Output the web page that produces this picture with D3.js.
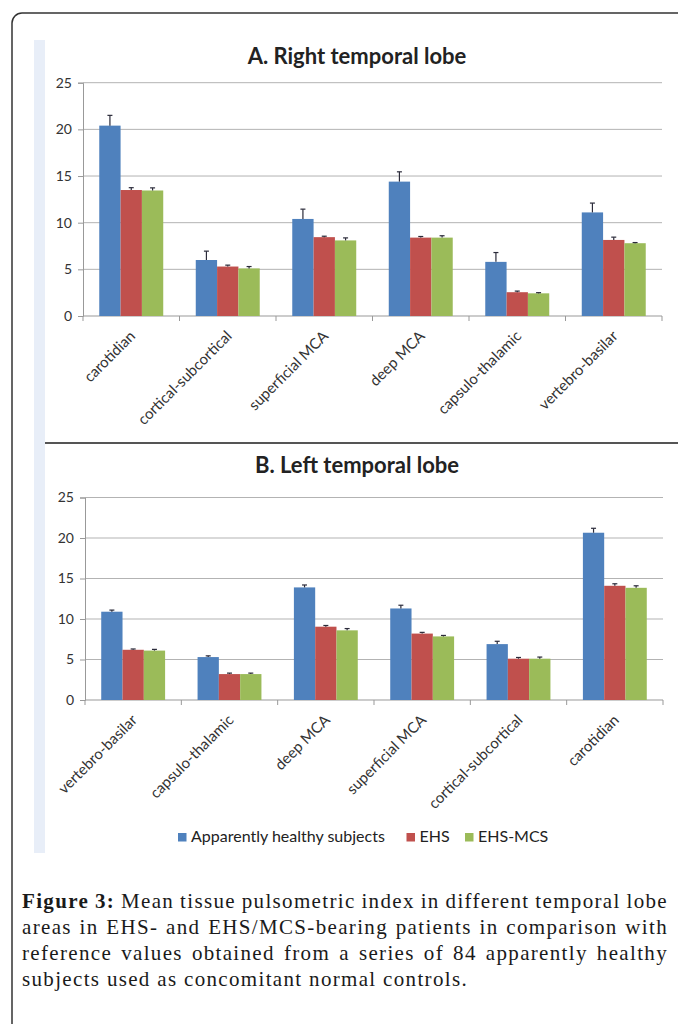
<!DOCTYPE html>
<html>
<head>
<meta charset="utf-8">
<script src="https://cdn.jsdelivr.net/npm/d3@7"></script>
<style>
  body { margin: 0; background: #fff; }
  svg { display: block; }
</style>
</head>
<body>
<div id="container"></div>
<script>
const seriesNames = ["Apparently healthy subjects", "EHS", "EHS-MCS"]
const colors = ["#4f81bd", "#c0504d", "#9bbb59"]
const yTicks = [0, 5, 10, 15, 20, 25]

// A. Right temporal lobe
const categoriesA = ["carotidian", "cortical-subcortical", "superficial MCA", "deep MCA", "capsulo-thalamic", "vertebro-basilar"]
const healthyA = [20.4, 6.0, 10.4, 14.4, 5.8, 11.1]
const healthyErrA = [1.1, 0.95, 1.05, 1.05, 1.0, 1.0]
const ehsA = [13.5, 5.3, 8.45, 8.4, 2.55, 8.15]
const ehsErrA = [0.25, 0.15, 0.1, 0.12, 0.12, 0.3]
const mcsA = [13.45, 5.1, 8.1, 8.4, 2.43, 7.8]
const mcsErrA = [0.28, 0.2, 0.27, 0.2, 0.07, 0.07]

// B. Left temporal lobe
const categoriesB = ["vertebro-basilar", "capsulo-thalamic", "deep MCA", "superficial MCA", "cortical-subcortical", "carotidian"]
const healthyB = [10.9, 5.3, 13.9, 11.3, 6.9, 20.65]
const healthyErrB = [0.2, 0.15, 0.3, 0.4, 0.35, 0.55]
const ehsB = [6.2, 3.2, 9.05, 8.2, 5.1, 14.1]
const ehsErrB = [0.1, 0.12, 0.15, 0.15, 0.15, 0.25]
const mcsB = [6.1, 3.2, 8.6, 7.85, 5.1, 13.85]
const mcsErrB = [0.15, 0.12, 0.22, 0.12, 0.2, 0.25]

const captionLines = [
    ["Figure 3:", " Mean tissue pulsometric index in different temporal lobe"],
    ["", "areas in EHS- and EHS/MCS-bearing patients in comparison with"],
    ["", "reference values obtained from a series of 84 apparently healthy"],
    ["", "subjects used as concomitant normal controls."]
]

const W = 678, H = 1024
const font = "Lato, 'Open Sans', sans-serif"

const svg = d3.select('#container')
    .append('svg').attr('width', W).attr('height', H)

// outer frame
svg.append('rect')
    .attr('x', 12).attr('y', 13)
    .attr('width', 700).attr('height', 1040)
    .attr('rx', 10)
    .attr('fill', 'none')
    .attr('stroke', '#333').attr('stroke-width', 1.5)

// light strip on the left of the chart picture
svg.append('rect')
    .attr('x', 34).attr('y', 40)
    .attr('width', 11).attr('height', 813)
    .attr('fill', '#e8eef8')

const drawPanel = (box, title, categories, values, errors) => {
    const g = svg.append('g')

    const x0 = d3.scaleBand().domain(categories)
        .range([box.left, box.right])
        .paddingInner(0.337).paddingOuter(0.1685)
    const x1 = d3.scaleBand().domain(d3.range(3)).range([0, x0.bandwidth()])
    const y = d3.scaleLinear().domain([0, 25]).range([box.bottom, box.top])

    g.append('text')
        .attr('x', 357).attr('y', box.titleY)
        .attr('text-anchor', 'middle')
        .attr('font-family', font).attr('font-weight', 'bold')
        .attr('font-size', 22).attr('fill', '#222')
        .text(title)

    // gridlines
    g.append('g').selectAll('line').data(yTicks.filter(t => t > 0)).join('line')
        .attr('x1', box.left).attr('x2', box.right)
        .attr('y1', d => y(d)).attr('y2', d => y(d))
        .attr('stroke', '#b3b3b3').attr('stroke-width', 1)

    // y axis
    const yAxis = g.append('g')
        .attr('transform', 'translate(' + box.left + ',0)')
        .call(d3.axisLeft(y).tickValues(yTicks).tickSize(5).tickPadding(6))
    yAxis.select('.domain').attr('stroke', '#999')
    yAxis.selectAll('.tick line').attr('stroke', '#999')
    yAxis.selectAll('text')
        .attr('font-family', font).attr('font-size', 14).attr('fill', '#333')

    // x axis
    const xAxis = g.append('g')
        .attr('transform', 'translate(0,' + box.bottom + ')')
    xAxis.append('line')
        .attr('x1', box.left).attr('x2', box.right)
        .attr('stroke', '#999')
    const step = x0.step()
    xAxis.selectAll('.bound').data(d3.range(categories.length + 1)).join('line')
        .attr('class', 'bound')
        .attr('x1', i => box.left + i * step).attr('x2', i => box.left + i * step)
        .attr('y1', 0).attr('y2', 5)
        .attr('stroke', '#999')
    xAxis.selectAll('text').data(categories).join('text')
        .attr('transform', d => 'translate(' + (x0(d) + x0.bandwidth() / 2 + 5) + ',' + 21 + ') rotate(-45)')
        .attr('text-anchor', 'end')
        .attr('font-family', font).attr('font-size', 15).attr('fill', '#333')
        .text(d => d)

    // bars
    const rows = []
    categories.forEach((c, i) => {
        values.forEach((s, k) => rows.push({ cat: c, k: k, v: s[i], e: errors[k][i] }))
    })
    const bars = g.append('g')
    bars.selectAll('rect').data(rows).join('rect')
        .attr('x', d => x0(d.cat) + x1(d.k))
        .attr('width', x1.bandwidth())
        .attr('y', d => y(d.v))
        .attr('height', d => y(0) - y(d.v))
        .attr('fill', d => colors[d.k])

    // error bars (upper only)
    const err = g.append('g').attr('stroke', '#2b2b3a').attr('stroke-width', 1.2)
    err.selectAll('.v').data(rows).join('line')
        .attr('class', 'v')
        .attr('x1', d => x0(d.cat) + x1(d.k) + x1.bandwidth() / 2)
        .attr('x2', d => x0(d.cat) + x1(d.k) + x1.bandwidth() / 2)
        .attr('y1', d => y(d.v)).attr('y2', d => y(d.v + d.e))
    err.selectAll('.c').data(rows).join('line')
        .attr('class', 'c')
        .attr('x1', d => x0(d.cat) + x1(d.k) + x1.bandwidth() / 2 - 2.5)
        .attr('x2', d => x0(d.cat) + x1(d.k) + x1.bandwidth() / 2 + 2.5)
        .attr('y1', d => y(d.v + d.e)).attr('y2', d => y(d.v + d.e))
}

drawPanel({ left: 83, right: 662, top: 82.7, bottom: 316, titleY: 64 },
    "A. Right temporal lobe", categoriesA,
    [healthyA, ehsA, mcsA], [healthyErrA, ehsErrA, mcsErrA])

// separator between the two panels
svg.append('line')
    .attr('x1', 45).attr('x2', 678)
    .attr('y1', 443).attr('y2', 443)
    .attr('stroke', '#555').attr('stroke-width', 2)

drawPanel({ left: 85, right: 663, top: 497.5, bottom: 700, titleY: 473 },
    "B. Left temporal lobe", categoriesB,
    [healthyB, ehsB, mcsB], [healthyErrB, ehsErrB, mcsErrB])

// legend
const legendX = [178, 406.5, 465]
const legend = svg.append('g')
seriesNames.forEach((name, k) => {
    legend.append('rect')
        .attr('x', legendX[k]).attr('y', 833)
        .attr('width', 8.5).attr('height', 8.5)
        .attr('fill', colors[k])
    legend.append('text')
        .attr('x', legendX[k] + 13).attr('y', 842)
        .attr('font-family', font).attr('font-size', 16).attr('fill', '#222')
        .text(name)
})

// caption: last line is widened by letter spacing, the others justified by word spacing
const capSize = 21
const cap = svg.append('g')
    .attr('font-family', "'Liberation Serif', 'DejaVu Serif', serif")
    .attr('font-size', capSize)
    .attr('fill', '#1a1a1a')
const capText = captionLines.map((ln, i) => {
    const t = cap.append('text')
        .attr('x', 22).attr('y', 908 + i * 26)
    if (ln[0]) t.append('tspan').attr('font-weight', 'bold').text(ln[0])
    t.append('tspan').text(ln[1])
    return t
})
const lastLine = captionLines[3][1]
const lastW = capText[3].node().getComputedTextLength()
const letterSp = Math.max(0, (446 - lastW) / lastLine.length)
capText.forEach((t, i) => {
    t.attr('letter-spacing', letterSp)
    if (i < 3) {
        const natural = t.node().getComputedTextLength()
        const spaces = (captionLines[i][0] + captionLines[i][1]).split(' ').length - 1
        t.attr('word-spacing', (646 - natural) / spaces)
    }
})
</script>
</body>
</html>
